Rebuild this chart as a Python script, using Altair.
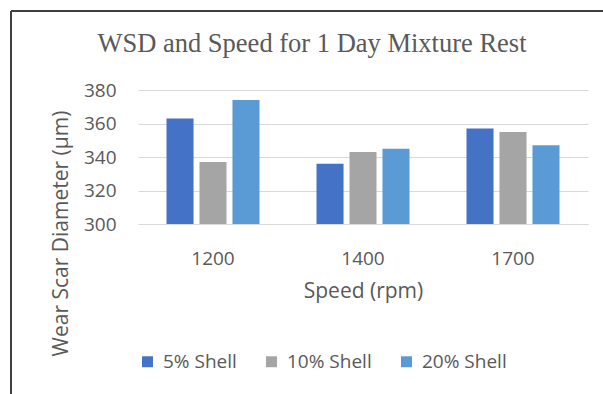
import altair as alt
import pandas as pd

speeds = ["1200", "1400", "1700"]
series = ["5% Shell", "10% Shell", "20% Shell"]
shell5 = [363, 336, 357]
shell10 = [337, 343, 355]
shell20 = [374, 345, 347]
colors = ["#4472C4", "#A5A5A5", "#5B9BD5"]

rows = []
for name, vals in zip(series, [shell5, shell10, shell20]):
    for s, v in zip(speeds, vals):
        rows.append({"Speed": s, "Series": name, "WSD": v})
df = pd.DataFrame(rows)

FONT = "Open Sans"
TXT = "#595959"

bars = alt.Chart(df).mark_bar().encode(
    x=alt.X("Speed:N", sort=speeds,
            scale=alt.Scale(paddingInner=0.38, paddingOuter=0.19),
            axis=alt.Axis(title="Speed (rpm)", labelAngle=0, ticks=False,
                          domainColor="#D9D9D9", labelPadding=25,
                          labelFontSize=19, titleFontSize=21,
                          titleFontWeight="normal", titleY=67,
                          titleBaseline="middle")),
    xOffset=alt.XOffset("Series:N", sort=series,
                        scale=alt.Scale(paddingInner=0.18, paddingOuter=0)),
    y=alt.Y("WSD:Q", scale=alt.Scale(domain=[300, 380], zero=False, nice=False),
            axis=alt.Axis(title="Wear Scar Diameter (μm)", values=[300, 320, 340, 360, 380],
                          ticks=False, domain=False, gridColor="#D9D9D9",
                          labelPadding=22, labelFontSize=19, titleFontSize=21,
                          titleFontWeight="normal", titleX=-77, titleY=143,
                          titleBaseline="middle", titleAlign="center")),
    y2=alt.Y2(datum=300),
    color=alt.Color("Series:N", sort=series,
                    scale=alt.Scale(domain=series, range=colors),
                    legend=alt.Legend(title=None, orient="none", direction="horizontal",
                                      legendX=0, legendY=262, symbolType="square",
                                      symbolSize=120, symbolStrokeWidth=0,
                                      labelFontSize=19, labelOffset=6,
                                      columnPadding=25, labelColor=TXT)),
)

frame_left = alt.Chart(df).mark_rule(color="#404040", strokeWidth=1.5).encode(
    x=alt.value(-127), y=alt.value(-79), y2=alt.value(304))
frame_top = alt.Chart(df).mark_rule(color="#404040", strokeWidth=1.5).encode(
    x=alt.value(-127), x2=alt.value(465), y=alt.value(-79))

chart = alt.layer(bars, frame_left, frame_top).properties(
    width=450, height=134,
    autosize=alt.AutoSizeParams(type="none"),
    padding={"left": 138, "top": 90, "right": 15, "bottom": 170},
    background="white",
    title=alt.TitleParams("WSD and Speed for 1 Day Mixture Rest", font="Liberation Serif",
                          fontSize=26.5, fontWeight="normal", color=TXT,
                          anchor="middle", dx=-51, offset=29, dy=76),
).configure_axis(
    labelFont=FONT, titleFont=FONT, labelColor=TXT, titleColor=TXT
).configure_legend(
    labelFont=FONT
).configure_view(stroke=None)

chart.save("out.html", embed_options={"renderer": "svg", "actions": False})
